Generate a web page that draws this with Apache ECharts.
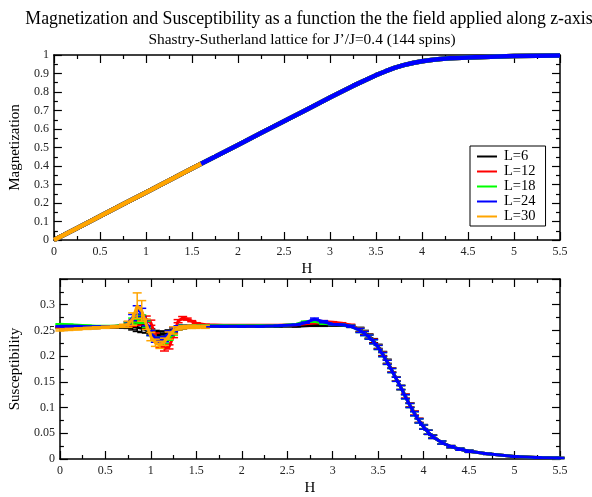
<!DOCTYPE html>
<html>
<head>
<meta charset="utf-8">
<script src="https://cdn.jsdelivr.net/npm/echarts@6/dist/echarts.min.js"></script>
<style>
  html, body { margin: 0; padding: 0; background: #fff; }
  #main { width: 592px; height: 497px; }
</style>
</head>
<body>
<div id="main"></div>
<script>
// legend / series names
var names = ['L=6', 'L=12', 'L=18', 'L=24', 'L=30']
var colors = ['#000000', '#ff0000', '#00ff00', '#0000ff', '#ffa500']

// magnetization (top panel)
var hMag = [0, 0.25, 0.5, 0.75, 1, 1.25, 1.5, 1.6, 1.75, 2, 2.25, 2.5, 2.75, 3, 3.25, 3.5, 3.6, 3.7, 3.8, 3.9, 4, 4.1, 4.2, 4.3, 4.5, 4.75, 5, 5.25, 5.5]
var magnetization = [0, 0.064, 0.128, 0.193, 0.257, 0.321, 0.386, 0.412, 0.45, 0.514, 0.578, 0.642, 0.706, 0.77, 0.833, 0.891, 0.911, 0.93, 0.945, 0.957, 0.966, 0.973, 0.978, 0.982, 0.987, 0.991, 0.994, 0.996, 0.997]
var magL30End = 1.6  // L=30 only goes up to here

// susceptibility (bottom panel)
var hChi = [0, 0.1, 0.2, 0.3, 0.4, 0.5, 0.6, 0.7, 0.75, 0.8, 0.85, 0.9, 0.95, 1.0, 1.05, 1.1, 1.15, 1.2, 1.25, 1.3, 1.35, 1.4, 1.45, 1.5, 1.6,
  1.8, 2.0, 2.2, 2.4, 2.6, 2.7, 2.8, 2.9, 3.0, 3.1, 3.2, 3.3, 3.35, 3.4, 3.45, 3.5, 3.55, 3.6, 3.65, 3.7, 3.75, 3.8, 3.85, 3.9, 3.95, 4.0,
  4.05, 4.1, 4.2, 4.3, 4.4, 4.5, 4.7, 5.0, 5.25, 5.5]
var chiL6 = [0.255, 0.255, 0.255, 0.255, 0.255, 0.256, 0.256, 0.256, 0.257, 0.257, 0.256, 0.254, 0.251, 0.248, 0.245, 0.243, 0.244, 0.247, 0.251, 0.254, 0.256, 0.257, 0.257, 0.258, 0.258,
  0.258, 0.258, 0.258, 0.258, 0.258, 0.259, 0.26, 0.26, 0.26, 0.26, 0.258, 0.252, 0.246, 0.239, 0.23, 0.219, 0.205, 0.19, 0.173, 0.156, 0.139, 0.122, 0.105, 0.089, 0.075, 0.063,
  0.052, 0.044, 0.032, 0.024, 0.019, 0.015, 0.01, 0.005, 0.003, 0.002]
var chiL12 = [0.257, 0.257, 0.257, 0.257, 0.257, 0.257, 0.258, 0.259, 0.261, 0.264, 0.268, 0.271, 0.272, 0.265, 0.24, 0.222, 0.215, 0.218, 0.24, 0.268, 0.274, 0.272, 0.268, 0.264, 0.261,
  0.26, 0.26, 0.26, 0.26, 0.261, 0.263, 0.265, 0.267, 0.266, 0.264, 0.26, 0.251, 0.245, 0.238, 0.229, 0.218, 0.204, 0.189, 0.173, 0.156, 0.139, 0.122, 0.105, 0.089, 0.075, 0.062,
  0.052, 0.043, 0.032, 0.024, 0.019, 0.015, 0.01, 0.005, 0.003, 0.002]
var chiL18 = [0.262, 0.261, 0.26, 0.259, 0.258, 0.258, 0.258, 0.26, 0.263, 0.268, 0.273, 0.272, 0.262, 0.245, 0.232, 0.228, 0.23, 0.235, 0.245, 0.255, 0.258, 0.259, 0.259, 0.259, 0.259,
  0.259, 0.259, 0.259, 0.259, 0.262, 0.267, 0.268, 0.264, 0.262, 0.261, 0.258, 0.25, 0.244, 0.237, 0.228, 0.217, 0.203, 0.188, 0.172, 0.155, 0.139, 0.121, 0.104, 0.088, 0.074, 0.062,
  0.052, 0.043, 0.032, 0.024, 0.019, 0.015, 0.01, 0.005, 0.003, 0.002]
var chiL24 = [0.258, 0.258, 0.258, 0.257, 0.257, 0.257, 0.257, 0.259, 0.264, 0.275, 0.29, 0.285, 0.265, 0.245, 0.232, 0.23, 0.233, 0.245, 0.252, 0.256, 0.257, 0.258, 0.258, 0.258, 0.258,
  0.258, 0.258, 0.258, 0.259, 0.261, 0.265, 0.272, 0.267, 0.262, 0.261, 0.258, 0.25, 0.244, 0.237, 0.228, 0.217, 0.203, 0.188, 0.172, 0.155, 0.139, 0.121, 0.104, 0.088, 0.074, 0.062,
  0.052, 0.043, 0.032, 0.024, 0.019, 0.015, 0.01, 0.005, 0.003, 0.002]
var chiL30 = [0.251, 0.252, 0.253, 0.254, 0.255, 0.256, 0.257, 0.259, 0.262, 0.272, 0.298, 0.288, 0.262, 0.238, 0.226, 0.222, 0.228, 0.24, 0.25, 0.254, 0.256, 0.257, 0.257, 0.257, 0.257]

// error bar half-heights
var errCommon = [0.001, 0.001, 0.001, 0.001, 0.001, 0.001, 0.001, 0.001, 0.003, 0.006, 0.008, 0.008, 0.006, 0.005, 0.005, 0.005, 0.005, 0.004, 0.004, 0.003, 0.003, 0.002, 0.001, 0.001, 0.001,
  0.001, 0.001, 0.001, 0.001, 0.001, 0.001, 0.002, 0.002, 0.001, 0.001, 0.002, 0.004, 0.004, 0.004, 0.004, 0.004, 0.004, 0.004, 0.004, 0.004, 0.004, 0.004, 0.004, 0.004, 0.004, 0.004,
  0.004, 0.003, 0.003, 0.002, 0.002, 0.002, 0.001, 0.001, 0.001, 0.001]
var errL30 = [0.002, 0.002, 0.002, 0.002, 0.002, 0.002, 0.002, 0.003, 0.006, 0.012, 0.025, 0.02, 0.01, 0.008, 0.007, 0.007, 0.007, 0.007, 0.007, 0.003, 0.003, 0.003, 0.003, 0.003, 0.003]

var xTicks = { min: 0, max: 5.5, interval: 0.5 }

var chartDom = document.getElementById('main')
var chart = echarts.init(chartDom, null, { width: 592, height: 497 })

var serif = 'Liberation Serif'

function pairs(xs, ys) {
  var out = []
  for (var i = 0; i < ys.length; i++) out.push([xs[i], ys[i]])
  return out
}
function errPairs(xs, ys, es) {
  var out = []
  for (var i = 0; i < ys.length; i++) out.push([xs[i], ys[i], es[i]])
  return out
}

function renderErr(params, api) {
  var x = api.value(0), y = api.value(1), e = api.value(2)
  var top = api.coord([x, y + e])
  var bot = api.coord([x, y - e])
  var hw = 4.5
  var st = { stroke: api.visual('color'), lineWidth: 1.5 }
  return {
    type: 'group',
    children: [
      { type: 'line', shape: { x1: top[0], y1: top[1], x2: bot[0], y2: bot[1] }, style: st },
      { type: 'line', shape: { x1: top[0] - hw, y1: top[1], x2: top[0] + hw, y2: top[1] }, style: st },
      { type: 'line', shape: { x1: bot[0] - hw, y1: bot[1], x2: bot[0] + hw, y2: bot[1] }, style: st }
    ]
  }
}

function xAxisCfg(gridIndex, mirror) {
  return {
    type: 'value', gridIndex: gridIndex, position: mirror ? 'top' : 'bottom',
    min: xTicks.min, max: xTicks.max, interval: xTicks.interval,
    name: mirror ? '' : 'H', nameLocation: 'middle', nameGap: 22,
    nameTextStyle: { fontFamily: serif, fontSize: 15, color: '#000' },
    axisLine: { show: true, onZero: false, lineStyle: { color: '#000', width: 1.5 } },
    axisTick: { show: true, inside: true, length: 8, lineStyle: { color: '#000', width: 1.2 } },
    minorTick: { show: true, splitNumber: 2, length: 4, lineStyle: { color: '#000', width: 1.2 } },
    axisLabel: { show: !mirror, fontFamily: serif, fontSize: 12, color: '#222', margin: 6 },
    splitLine: { show: false }
  }
}
function yAxisCfg(gridIndex, mirror, max, interval, name, gap) {
  return {
    type: 'value', gridIndex: gridIndex, position: mirror ? 'right' : 'left',
    min: 0, max: max, interval: interval,
    name: mirror ? '' : name, nameLocation: 'middle', nameGap: gap,
    nameTextStyle: { fontFamily: serif, fontSize: 15, color: '#000' },
    axisLine: { show: true, onZero: false, lineStyle: { color: '#000', width: 1.5 } },
    axisTick: { show: true, inside: true, length: 8, lineStyle: { color: '#000', width: 1.2 } },
    minorTick: { show: true, splitNumber: 2, length: 4, lineStyle: { color: '#000', width: 1.2 } },
    axisLabel: {
      show: !mirror, fontFamily: serif, fontSize: 12, color: '#222', margin: 5,
      formatter: function (v) {
        if (v > 0.999 * max && max < 0.9) return ''
        return String(Math.round(v * 1000) / 1000)
      }
    },
    splitLine: { show: false }
  }
}

var series = []
// top panel: magnetization
names.forEach(function (n, i) {
  var data = pairs(hMag, magnetization)
  if (n === 'L=30') data = data.filter(function (d) { return d[0] <= magL30End })
  series.push({
    name: n, type: 'line', xAxisIndex: 0, yAxisIndex: 0,
    data: data, symbol: 'none', color: colors[i],
    lineStyle: { width: 4.5, color: colors[i] }, z: 2 + i
  })
})
// bottom panel: susceptibility with error bars
var chiSets = [chiL6, chiL12, chiL18, chiL24, chiL30]
names.forEach(function (n, i) {
  var errs = n === 'L=30' ? errL30 : errCommon
  series.push({
    name: n, type: 'line', xAxisIndex: 2, yAxisIndex: 2,
    data: pairs(hChi, chiSets[i]), symbol: 'none', color: colors[i],
    lineStyle: { width: 3, color: colors[i] }, z: 2 + i
  })
  series.push({
    name: n + ' err', type: 'custom', xAxisIndex: 2, yAxisIndex: 2,
    data: errPairs(hChi, chiSets[i], errs), color: colors[i],
    renderItem: renderErr, encode: { x: 0, y: 1 }, z: 2 + i, silent: true
  })
})

var option = {
  backgroundColor: '#ffffff',
  animation: false,
  title: [
    {
      text: 'Magnetization and Susceptibility as a function the the field applied along z-axis',
      left: 304, top: 5, textAlign: 'center',
      textStyle: { fontFamily: serif, fontSize: 17.8, fontWeight: 'normal', color: '#000' }
    },
    {
      text: 'Shastry-Sutherland lattice for J\u2019/J=0.4 (144 spins)',
      left: 297, top: 27, textAlign: 'center',
      textStyle: { fontFamily: serif, fontSize: 15.4, fontWeight: 'normal', color: '#000' }
    }
  ],
  legend: {
    data: names,
    orient: 'vertical',
    left: 470, top: 146,
    padding: [3, 10, 2, 7],
    icon: 'rect',
    itemWidth: 20, itemHeight: 2, itemGap: 0,
    borderColor: '#000', borderWidth: 1,
    textStyle: { fontFamily: serif, fontSize: 14.5, lineHeight: 14, height: 14, color: '#000', padding: [0, 0, 0, 2] }
  },
  grid: [
    { left: 49, top: 55, width: 511, height: 185 },
    { left: 49, top: 279, width: 511, height: 185 }
  ],
  xAxis: [xAxisCfg(0, false), xAxisCfg(0, true), xAxisCfg(1, false), xAxisCfg(1, true)],
  yAxis: [
    yAxisCfg(0, false, 1, 0.1, 'Magnetization', 22),
    yAxisCfg(0, true, 1, 0.1, '', 0),
    yAxisCfg(1, false, 0.35, 0.05, 'Susceptibility', 34),
    yAxisCfg(1, true, 0.35, 0.05, '', 0)
  ],
  series: series
}

chart.setOption(option)
</script>
</body>
</html>
